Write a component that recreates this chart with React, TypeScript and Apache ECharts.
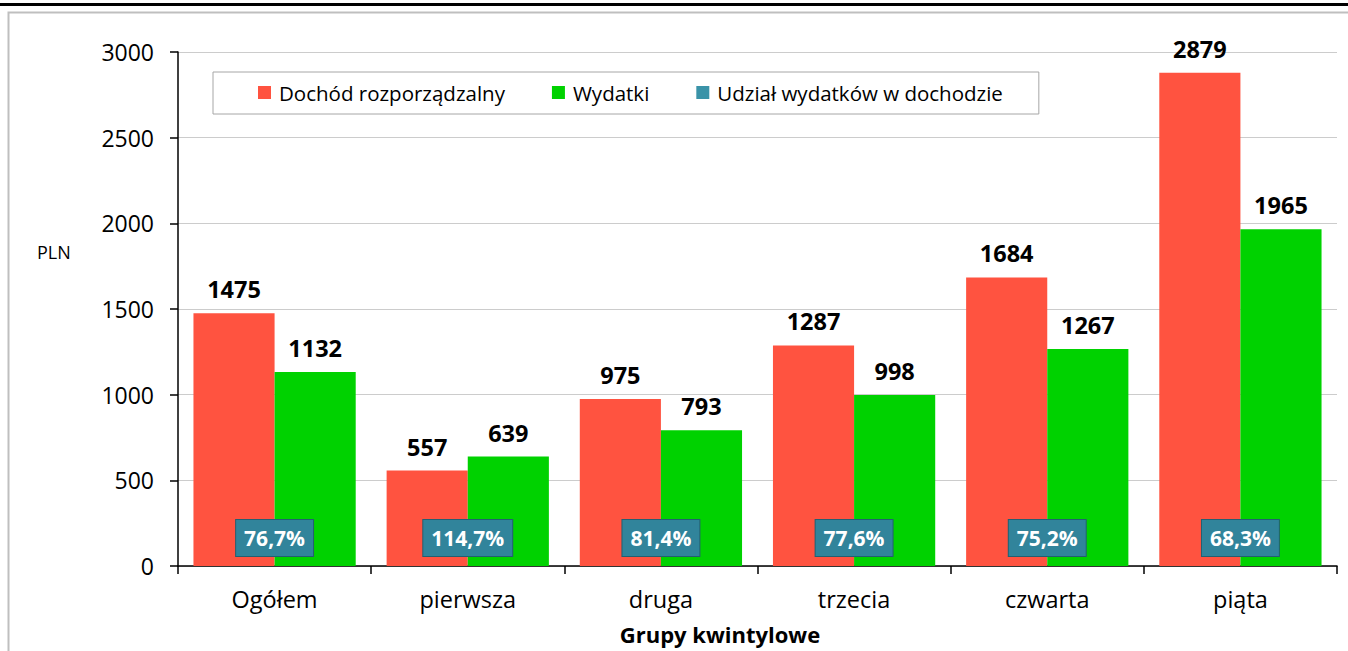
import React, { useEffect, useRef } from "react";
import * as echarts from "echarts";

const categories = ["Ogółem", "pierwsza", "druga", "trzecia", "czwarta", "piąta"];
const dochod = [1475, 557, 975, 1287, 1684, 2879];
const wydatki = [1132, 639, 793, 998, 1267, 1965];
const udzial = [76.7, 114.7, 81.4, 77.6, 75.2, 68.3];
const seriesNames = ["Dochód rozporządzalny", "Wydatki", "Udział wydatków w dochodzie"];

const FONT = "'Open Sans', sans-serif";
const RED = "#FF5340";
const GREEN = "#00D200";
const TEAL = "#31849B";

export default function App() {
  const ref = useRef<HTMLDivElement>(null);
  useEffect(() => {
    const chart = echarts.init(ref.current!, null, { renderer: "svg" });
    const valueLabel = {
      show: true,
      position: "top",
      distance: 12,
      fontFamily: FONT,
      fontWeight: "bold",
      fontSize: 23.5,
      color: "#000",
    };
    chart.setOption({
      animation: false,
      backgroundColor: "#fff",
      textStyle: { fontFamily: FONT },
      graphic: [
        { type: "rect", shape: { x: 0, y: 3, width: 1348, height: 3 }, style: { fill: "#000" }, silent: true },
        {
          type: "rect",
          shape: { x: 8.5, y: 12.5, width: 1360, height: 700 },
          style: { fill: "none", stroke: "#BFBFBF", lineWidth: 2 },
          silent: true,
          z: -1,
        },
        {
          type: "text",
          left: 37,
          top: 243,
          style: { text: "PLN", fontFamily: FONT, fontSize: 18, fill: "#000" },
          silent: true,
        },
        {
          type: "text",
          x: 720,
          y: 634,
          style: {
            text: "Grupy kwintylowe",
            fontFamily: FONT,
            fontWeight: "bold",
            fontSize: 22,
            fill: "#000",
            align: "center",
            verticalAlign: "middle",
          },
          silent: true,
        },
      ],
      legend: {
        left: 213,
        top: 72,
        padding: [10, 36, 11, 45],
        itemGap: 47,
        itemWidth: 13,
        itemHeight: 13,
        backgroundColor: "#fff",
        borderColor: "#A6A6A6",
        borderWidth: 1,
        textStyle: { fontFamily: FONT, fontSize: 20.5, color: "#000", padding: [0, 0, 0, 3] },
        data: [
          { name: seriesNames[0], icon: "rect", itemStyle: { color: RED } },
          { name: seriesNames[1], icon: "rect", itemStyle: { color: GREEN } },
          { name: seriesNames[2], icon: "rect", itemStyle: { color: "#3A93A8", opacity: 1 } },
        ],
        z: 10,
      },
      grid: { left: 178, right: 11, top: 52, bottom: 85, containLabel: false },
      xAxis: {
        type: "category",
        data: categories,
        axisLine: { lineStyle: { color: "#000", width: 1.5 } },
        axisTick: { show: true, length: 8, lineStyle: { color: "#000", width: 1.5 } },
        axisLabel: { margin: 21, fontFamily: FONT, fontSize: 23.5, color: "#000" },
      },
      yAxis: {
        type: "value",
        min: 0,
        max: 3000,
        interval: 500,
        axisLine: { show: true, lineStyle: { color: "#000", width: 1.5 } },
        axisTick: { show: true, length: 8, lineStyle: { color: "#000", width: 1.5 } },
        axisLabel: {
          margin: 24,
          fontFamily: FONT,
          fontSize: 23,
          color: "#000",
          formatter: (v: number) => String(v),
        },
        splitLine: { show: true, lineStyle: { color: "#CCCCCC", width: 1 } },
      },
      series: [
        {
          name: seriesNames[0],
          type: "bar",
          data: dochod,
          barGap: "0%",
          barCategoryGap: "16%",
          itemStyle: { color: RED },
          label: valueLabel,
        },
        {
          name: seriesNames[1],
          type: "bar",
          data: wydatki,
          itemStyle: { color: GREEN },
          label: valueLabel,
        },
        {
          name: seriesNames[2],
          type: "scatter",
          data: udzial.map((v, i) => [i, 0, v]),
          symbol: "rect",
          symbolSize: 0,
          itemStyle: { color: TEAL, opacity: 1 },
          z: 5,
          label: {
            show: true,
            position: "inside",
            offset: [0, -28],
            formatter: (p: any) => p.value[2].toFixed(1).replace(".", ",") + "%",
            fontFamily: FONT,
            fontWeight: "bold",
            fontSize: 21,
            color: "#fff",
            backgroundColor: TEAL,
            borderColor: "#245F70",
            borderWidth: 1,
            padding: [8, 8, 7, 8],
          },
        },
      ],
    });
    return () => chart.dispose();
  }, []);
  return (
    <div
      ref={ref}
      style={{ position: "fixed", left: 0, top: 0, width: 1348, height: 651 }}
    />
  );
}
